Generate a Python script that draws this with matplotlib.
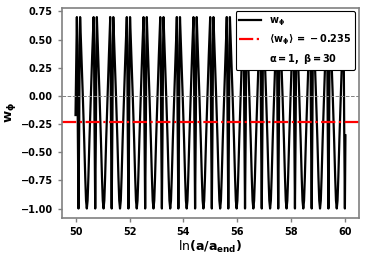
import numpy as np
import matplotlib.pyplot as plt
from matplotlib.lines import Line2D

plt.rcParams['mathtext.default'] = 'bf'

# positions of the narrow dips to -1
spike_x = [50.11, 50.73, 51.34, 51.96, 52.58, 53.20, 53.81, 54.43, 55.05,
           55.66, 56.28, 56.90, 57.51, 58.13, 58.75, 59.37, 59.98]

# one period of w_phi, offsets relative to a narrow dip
period_dx = [-0.06, -0.045, -0.025, 0.0, 0.025, 0.045, 0.06,
             0.11, 0.16, 0.21, 0.25, 0.28, 0.3085,
             0.337, 0.367, 0.407, 0.457, 0.507, 0.557]
period_w = [0.70, 0.45, -0.30, -1.00, -0.30, 0.45, 0.70,
            0.36, 0.00, -0.38, -0.72, -0.93, -1.00,
            -0.93, -0.72, -0.38, 0.00, 0.36, 0.70]

start_x, start_w = 50.0, -0.17
end_x, end_w = 60.0, -0.35
w_mean = -0.235

x = [start_x]
w = [start_w]
for s in spike_x:
    for dx, val in zip(period_dx, period_w):
        xx = s + dx
        if xx > end_x:
            break
        x.append(xx)
        w.append(val)
x.append(end_x)
w.append(end_w)

fig = plt.figure(figsize=(3.67, 2.59), dpi=100)
ax = fig.add_axes([0.169, 0.158, 0.809, 0.813])

ax.plot(x, w, color='black', lw=1.6)
ax.axhline(0, color='gray', ls='--', lw=0.7)
ax.axhline(w_mean, color='red', ls='-.', lw=1.6)

ax.set_yticks([0.75, 0.5, 0.25, 0.0, -0.25, -0.5, -0.75, -1.0])
ax.set_xticks([50, 52, 54, 56, 58, 60])
ax.tick_params(labelsize=7, color='gray', width=1, length=3)
for lab in ax.get_xticklabels() + ax.get_yticklabels():
    lab.set_fontweight('bold')
for sp in ax.spines.values():
    sp.set_color('gray')
    sp.set_linewidth(1.2)

ax.set_xlabel(r'$\ln(a/a_{end})$', fontsize=9, labelpad=1)
ax.set_ylabel(r'$w_\phi$', fontsize=9.5, labelpad=2)

handles = [Line2D([], [], color='black', lw=1.6),
           Line2D([], [], color='red', ls='-.', lw=1.6),
           Line2D([], [], color='none')]
labels = [r'$w_\phi$', r'$\langle w_\phi\rangle\,=\,-0.235$',
          r'$\alpha = 1,\ \beta = 30$']
leg = ax.legend(handles, labels, loc='upper right', fontsize=7,
                framealpha=1, edgecolor='black', fancybox=True,
                handlelength=2.2, borderaxespad=0.4)
leg.get_frame().set_linewidth(0.8)

fig.savefig('out.png', dpi=100)
